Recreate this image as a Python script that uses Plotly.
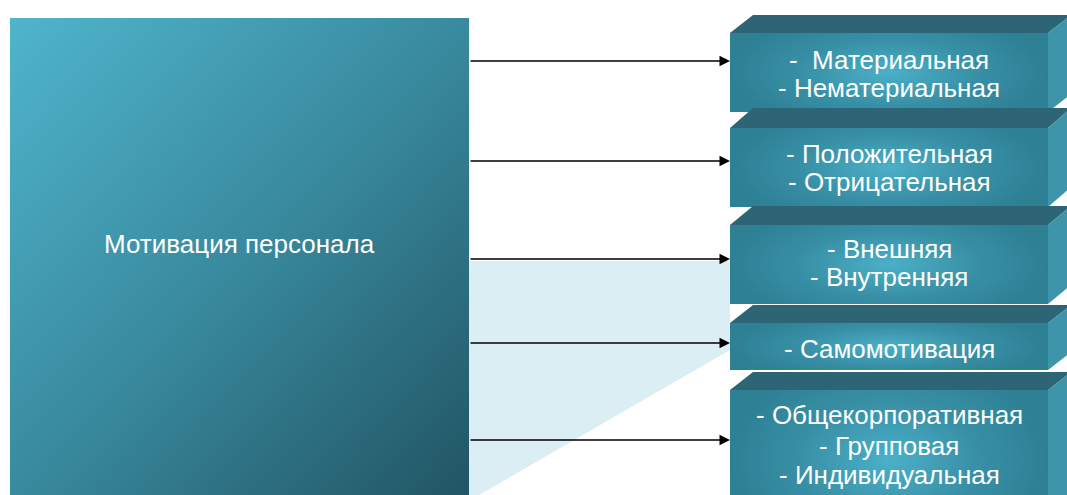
import numpy as np
import plotly.graph_objects as go

# Diagram content
root_label = "Мотивация персонала"
group_labels = [
    ["-  Материальная", "- Нематериальная"],
    ["- Положительная", "- Отрицательная"],
    ["- Внешняя", "- Внутренняя"],
    ["- Самомотивация"],
    ["- Общекорпоративная", "- Групповая", "- Индивидуальная"],
]

# Layout geometry (pixels, y grows downward)
W, H = 1067, 495
root_box = (10, 18, 469, 495)
# (top of top face, top of front face, bottom of front face)
box_rows = [(15, 33, 112), (108, 128, 207), (206, 225, 304), (305, 323, 370), (372, 390, 530)]
arrow_y = [61, 161, 259, 343, 440]
line_y = [[60, 88], [154, 182], [249, 277], [349], [415, 446, 475]]
front_x0, front_x1, depth_x = 730, 1048, 23

fig = go.Figure()


def gradient_rect(x0, y0, x1, y1, zfun, colorscale, step=3):
    xe = np.arange(x0, x1 + step, step, dtype=float)
    xe[-1] = x1
    ye = np.arange(y0, y1 + step, step, dtype=float)
    ye[-1] = y1
    xc = (xe[:-1] + xe[1:]) / 2
    yc = (ye[:-1] + ye[1:]) / 2
    X, Y = np.meshgrid((xc - x0) / (x1 - x0), (yc - y0) / (y1 - y0))
    fig.add_trace(go.Heatmap(
        x=xe, y=ye, z=zfun(X, Y), zmin=0, zmax=1,
        colorscale=colorscale, showscale=False, hoverinfo="skip", zsmooth=False,
    ))


# Light wedge behind the lower arrows
shapes = [dict(
    type="path", layer="below", line=dict(width=0), fillcolor="#dbeef4",
    path="M 469 261 L 730 261 L 730 350 L 474 498 L 469 498 Z",
)]

# Root block with diagonal gradient
gradient_rect(*root_box, lambda X, Y: np.clip(0.5 * X + 0.5 * Y, 0, 1),
              [[0, "#4fb5cd"], [0.5, "#398a9e"], [1, "#215564"]])

# Right-hand 3D blocks
for tt, ft, fb in box_rows:
    gradient_rect(front_x0, ft, front_x1, fb,
                  lambda X, Y: np.clip(np.sqrt(((X - 0.5) / 0.5) ** 2 + ((Y - 0.5) / 0.75) ** 2), 0, 1),
                  [[0, "#4bb0c8"], [0.55, "#3890a6"], [1, "#2e8094"]], step=2)
    shapes.append(dict(
        type="path", layer="above", line=dict(width=0), fillcolor="#2d6576",
        path=f"M {front_x0} {ft} L {front_x0 + depth_x} {tt} L {front_x1 + depth_x} {tt} L {front_x1} {ft} Z",
    ))
    shapes.append(dict(
        type="path", layer="above", line=dict(width=0), fillcolor="#3e94a9",
        path=(f"M {front_x1} {ft} L {front_x1 + depth_x} {tt} "
              f"L {front_x1 + depth_x} {tt + fb - ft} L {front_x1} {fb} Z"),
    ))

annotations = []
# Connecting arrows
for y in arrow_y:
    annotations.append(dict(
        x=front_x0, y=y, ax=root_box[2], ay=y, xref="x", yref="y", axref="x", ayref="y",
        text="", showarrow=True, arrowhead=2, arrowsize=1.5, arrowwidth=1.4, arrowcolor="#000000",
    ))

font = dict(family="Liberation Sans, Arial, sans-serif", size=26, color="#ffffff")
annotations.append(dict(
    x=(root_box[0] + root_box[2]) / 2, y=244, xref="x", yref="y", text=root_label,
    showarrow=False, font=font, xanchor="center", yanchor="middle",
))
cx = (front_x0 + front_x1) / 2
for lines, ys in zip(group_labels, line_y):
    for txt, y in zip(lines, ys):
        annotations.append(dict(
            x=cx, y=y, xref="x", yref="y", text=txt, showarrow=False, font=font,
            xanchor="center", yanchor="middle",
        ))

fig.update_layout(
    width=W, height=H, margin=dict(l=0, r=0, t=0, b=0),
    paper_bgcolor="#ffffff", plot_bgcolor="#ffffff",
    xaxis=dict(range=[0, W], visible=False, fixedrange=True),
    yaxis=dict(range=[H, 0], visible=False, fixedrange=True),
    shapes=shapes, annotations=annotations, showlegend=False,
)

fig.write_html("out.html", config={"displayModeBar": False})
